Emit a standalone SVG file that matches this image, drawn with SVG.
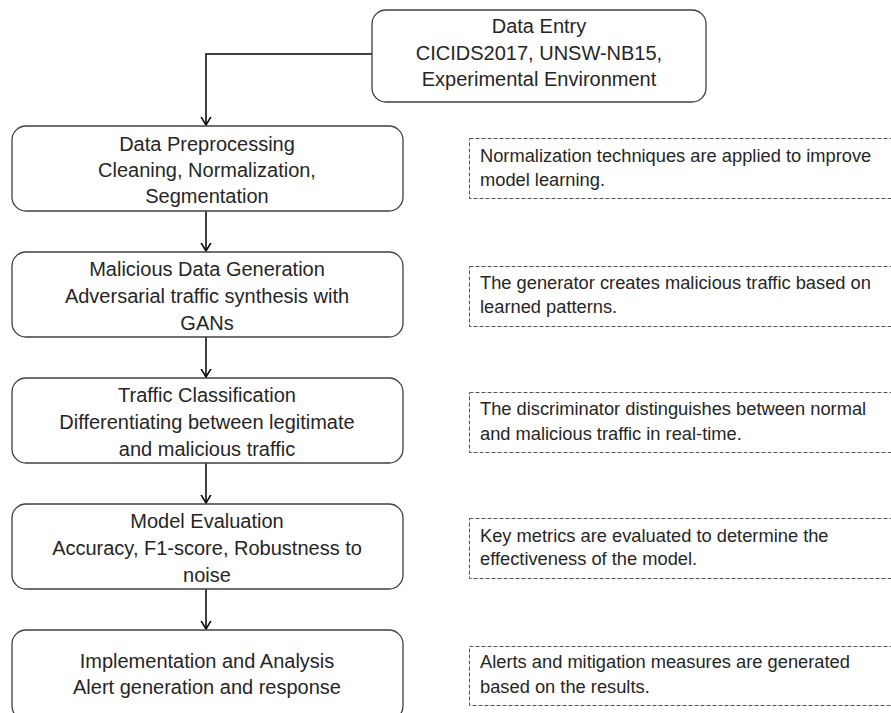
<svg xmlns="http://www.w3.org/2000/svg" width="891" height="713" viewBox="0 0 891 713">
<style>
.box{fill:#fff;stroke:#404040;stroke-width:1.3}
.note{fill:#fff;stroke:#555;stroke-width:1;stroke-dasharray:4 2}
.t{font-family:"Liberation Sans",Arial,sans-serif;font-size:20px;fill:#262626;text-anchor:middle}
.n{font-family:"Liberation Sans",Arial,sans-serif;font-size:18.3px;fill:#262626}
.c{fill:none;stroke:#000;stroke-width:1.5}
</style>
<defs>
<marker id="ah" markerUnits="userSpaceOnUse" markerWidth="16" markerHeight="16" viewBox="-8 -8 16 16" refX="0" refY="0" orient="auto">
<path d="M-10,-6 L0,0 L-10,6" fill="none" stroke="#000" stroke-width="1.5"/>
</marker>
</defs>
<rect width="891" height="713" fill="#fff"/>
<g id="connectors">
<path class="c" d="M372,54 H206 V125" marker-end="url(#ah)"/>
<path class="c" d="M206,211 V251" marker-end="url(#ah)"/>
<path class="c" d="M206,337 V377" marker-end="url(#ah)"/>
<path class="c" d="M206,463 V503" marker-end="url(#ah)"/>
<path class="c" d="M206,589 V629" marker-end="url(#ah)"/>
</g>
<g id="data-entry">
<rect class="box" x="372" y="10" width="334" height="92" rx="14"/>
<text class="t" x="539" y="33">Data Entry</text>
<text class="t" x="539" y="60">CICIDS2017, UNSW-NB15,</text>
<text class="t" x="539" y="86">Experimental Environment</text>
</g>
<g id="preprocessing">
<rect class="box" x="12" y="126" width="391" height="85" rx="14"/>
<text class="t" x="207" y="151">Data Preprocessing</text>
<text class="t" x="207" y="177">Cleaning, Normalization,</text>
<text class="t" x="207" y="203">Segmentation</text>
</g>
<g id="generation">
<rect class="box" x="12" y="252" width="391" height="85" rx="14"/>
<text class="t" x="207" y="276">Malicious Data Generation</text>
<text class="t" x="207" y="303">Adversarial traffic synthesis with</text>
<text class="t" x="207" y="330">GANs</text>
</g>
<g id="classification">
<rect class="box" x="12" y="378" width="391" height="85" rx="14"/>
<text class="t" x="207" y="402">Traffic Classification</text>
<text class="t" x="207" y="429">Differentiating between legitimate</text>
<text class="t" x="207" y="456">and malicious traffic</text>
</g>
<g id="evaluation">
<rect class="box" x="12" y="504" width="391" height="85" rx="14"/>
<text class="t" x="207" y="528">Model Evaluation</text>
<text class="t" x="207" y="555">Accuracy, F1-score, Robustness to</text>
<text class="t" x="207" y="582">noise</text>
</g>
<g id="implementation">
<rect class="box" x="12" y="630" width="391" height="90" rx="14"/>
<text class="t" x="207" y="668">Implementation and Analysis</text>
<text class="t" x="207" y="694">Alert generation and response</text>
</g>
<g id="note1">
<rect class="note" x="469.5" y="138.5" width="430" height="60"/>
<text class="n" x="480" y="162">Normalization techniques are applied to improve</text>
<text class="n" x="480" y="186">model learning.</text>
</g>
<g id="note2">
<rect class="note" x="469.5" y="266.5" width="430" height="60"/>
<text class="n" x="480" y="289">The generator creates malicious traffic based on</text>
<text class="n" x="480" y="313">learned patterns.</text>
</g>
<g id="note3">
<rect class="note" x="469.5" y="392.5" width="430" height="60"/>
<text class="n" x="480" y="415">The discriminator distinguishes between normal</text>
<text class="n" x="480" y="440">and malicious traffic in real-time.</text>
</g>
<g id="note4">
<rect class="note" x="469.5" y="518.5" width="430" height="60"/>
<text class="n" x="480" y="542">Key metrics are evaluated to determine the</text>
<text class="n" x="480" y="565">effectiveness of the model.</text>
</g>
<g id="note5">
<rect class="note" x="469.5" y="646.5" width="430" height="59"/>
<text class="n" x="480" y="668">Alerts and mitigation measures are generated</text>
<text class="n" x="480" y="693">based on the results.</text>
</g>
</svg>
